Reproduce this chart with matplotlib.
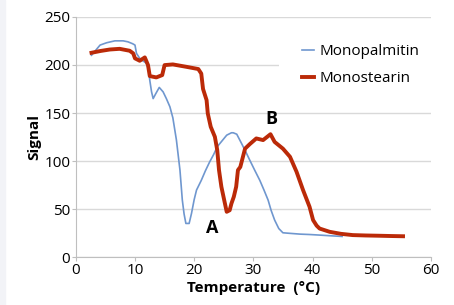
import matplotlib.pyplot as plt
from matplotlib.patches import Rectangle

plt.rcParams['font.family'] = ['Open Sans', 'DejaVu Sans']

# Monopalmitin (blå, tynn)
palm_t = [2.65, 4.1, 5.2, 6.6, 8.0, 8.8, 9.6, 10.0, 10.25, 10.8, 11.4, 11.95, 12.3,
          12.5, 12.8, 13.07, 13.5, 14.1, 14.75, 15.3, 15.9, 16.4, 17.0, 17.6,
          18.0, 18.3, 18.6, 19.15, 19.55, 20.0, 20.4, 21.2, 21.9, 22.6, 23.3,
          23.9, 24.7, 25.5, 26.3, 26.6, 27.2, 28.0, 28.7, 29.4, 30.2, 31.1,
          31.8, 32.5, 33.0, 33.6, 34.3, 35.0, 36.2, 37.9, 39.5, 41.2, 43.0, 45.0]
palm_s = [210, 220.6, 223, 225, 225, 224, 222, 220.6, 212, 206.8, 204, 201.6, 195,
          184, 172, 165, 170, 176.6, 172, 165, 156.5, 145, 122, 90.7,
          59.5, 45, 35.3, 35.3, 45.7, 60, 70, 80, 90, 99, 107,
          115, 121, 127, 129.5, 129.5, 128, 118.5, 110, 101, 91, 80,
          70, 59.5, 49, 38.8, 30, 25.6, 25, 24.2, 23.8, 23.2, 22.5, 21.8]

# Monostearin (rød, tykk)
stear_t = [2.65, 4.2, 5.75, 7.4, 9.1, 9.7, 10.0, 10.8, 11.66, 12.2, 12.5, 13.6,
           14.6, 15.0, 16.4, 18.7, 20.7, 21.2, 21.5, 22.1, 22.3, 22.8, 23.5,
           23.9, 24.2, 24.6, 25.2, 25.5, 26.0, 26.3, 26.7, 27.1, 27.4, 27.8,
           28.6, 29.4, 30.5, 31.65, 32.9, 33.6, 35.0, 36.2, 37.3, 38.4, 39.5,
           40.1, 40.7, 41.2, 42.9, 44.8, 46.8, 49.0, 51.4, 53.5, 55.3]
stear_s = [212.6, 214.5, 216, 216.7, 214.7, 212, 206.8, 204.3, 207.8, 199.8, 188.4, 187,
           189.4, 199.8, 200.5, 198, 195.7, 191, 175, 163.4, 149.6, 135.7, 125.3,
           111.5, 90.7, 73.4, 56, 47.4, 49, 56, 63, 73.4, 90.7, 94,
           113, 117.7, 123.6, 121.9, 128, 120, 113, 104.5, 89, 70, 52.6,
           38.8, 33, 30, 26.6, 24.5, 23.2, 22.8, 22.5, 22.2, 22]

fig = plt.figure(figsize=(4.54, 3.05), dpi=100)
fig.patches.append(Rectangle((0, 0), 0.012, 1, transform=fig.transFigure,
                             color='#f2f3f7', zorder=0))
ax = fig.add_axes([0.167, 0.156, 0.782, 0.789])

ax.plot(palm_t, palm_s, color='#6f97cf', lw=1.2, label='Monopalmitin', zorder=3)
ax.plot(stear_t, stear_s, color='#bb2a08', lw=2.8, label='Monostearin', zorder=4)

ax.set_xlim(0, 60)
ax.set_ylim(0, 250)
ax.set_xticks(range(0, 61, 10))
ax.set_yticks(range(0, 251, 50))
ax.grid(axis='y', color='#d9d9d9', lw=1)
ax.set_axisbelow(True)
for side in ['top', 'right']:
    ax.spines[side].set_visible(False)
for side in ['left', 'bottom']:
    ax.spines[side].set_color('#bfbfbf')
ax.tick_params(labelsize=11, color='#bfbfbf', length=3, pad=1)

ax.set_xlabel('Temperature  (°C)', fontsize=11, fontweight='bold', labelpad=2)
ax.set_ylabel('Signal', fontsize=11, fontweight='bold', labelpad=2)

ax.text(23.0, 31, 'A', fontsize=13, fontweight='bold', ha='center', va='center')
ax.text(33.1, 144, 'B', fontsize=13, fontweight='bold', ha='center', va='center')

leg = ax.legend(loc='upper right', bbox_to_anchor=(1.055, 1.012), fontsize=11,
                frameon=True, facecolor='white', edgecolor='none', framealpha=1,
                handlelength=0.8, handletextpad=0.4, borderpad=1.5, labelspacing=0.75)

fig.savefig('out.png', dpi=100)
